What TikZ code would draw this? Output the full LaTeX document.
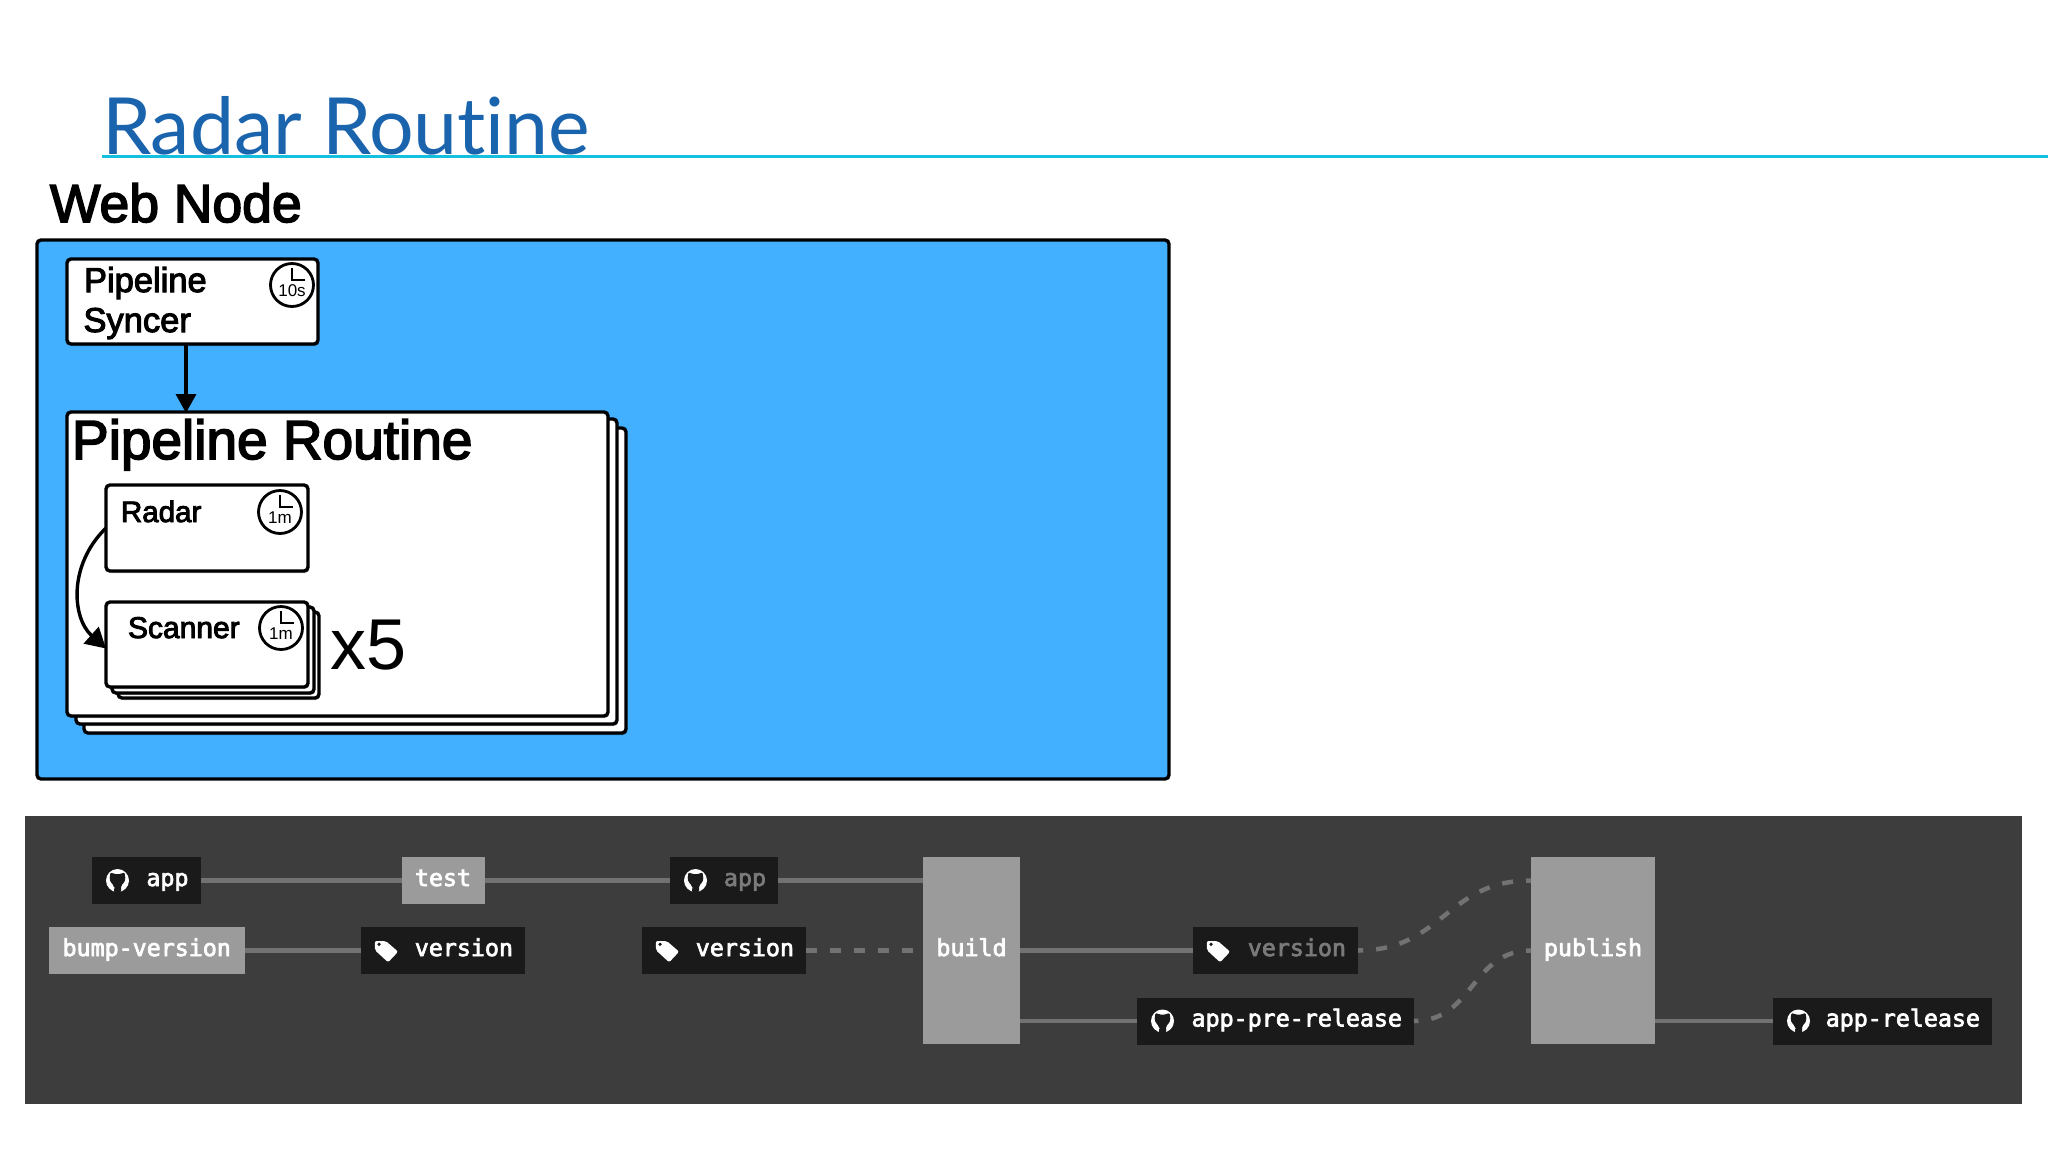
\documentclass[tikz,border=0pt]{standalone}
\usepackage{fontspec}
\usetikzlibrary{arrows.meta,shadows}
\setmainfont{Liberation Sans}
\newfontfamily\titlefont[Ligatures=NoCommon]{Lato}
\newfontfamily\medfont[FakeBold=3]{Liberation Sans}
\newfontfamily\codefont[FakeBold=3]{DejaVu Sans Mono}
\definecolor{webblue}{HTML}{42AFFF}
\definecolor{titleblue}{HTML}{1A64AE}
\definecolor{rulecyan}{HTML}{14C0E0}
\definecolor{panel}{HTML}{3E3D3E}
\definecolor{darkbox}{HTML}{1A1A1A}
\definecolor{jobgrey}{HTML}{9B9B9B}
\definecolor{linkgrey}{HTML}{727272}
\definecolor{dimtext}{HTML}{7A7A7A}
\tikzset{
  x=1pt,y=-1pt,
  sheet/.style={draw=black,fill=white,line width=3.4pt,rounded corners=4pt,anchor=north west,inner sep=0pt,outer sep=0pt,
    drop shadow={shadow xshift=1pt,shadow yshift=-2pt,opacity=.3,fill=black}},
  lbl/.style={anchor=base west,inner sep=0pt,outer sep=0pt},
  cbox/.style={inner sep=0pt,outer sep=0pt,minimum height=47pt,text=white,font=\codefont\fontsize{23.3}{26}\selectfont,text height=17pt,text depth=6pt},
  ref/.style={cbox,fill=darkbox,minimum width=#1,text width={#1-24pt},align=right},
  job/.style={cbox,fill=jobgrey,minimum width=#1,align=center},
  link/.style={draw=linkgrey,line width=4.5pt},
  dlink/.style={link,dash pattern=on 11pt off 13pt},
  pics/clock/.style={code={
    \node[circle,draw=black,fill=white,line width=2.8pt,minimum size=43pt,inner sep=0pt,outer sep=0pt] (-face) at (0,0) {};
    \draw[line width=2.8pt] (0,-17) -- (0,-5) -- (13,-5);
    \node[anchor=base,inner sep=0pt,font=\fontsize{17}{18}\selectfont] (-time) at (0,11) {#1};
  }},
  pics/ghmark/.style={code={
    \fill[white] (0,0) circle[radius=11.5pt];
    \fill[darkbox,rounded corners=1.5pt] (-7,-8.5) -- (-3.5,-6.5) -- (3.5,-6.5) -- (7,-8.5) -- (8,-1) -- (5.5,3.5) -- (3.5,5) -- (3.5,12) -- (-3.5,12) -- (-3.5,5) -- (-5.5,3.5) -- (-8,-1) -- cycle;
    \draw[white,line width=1.2pt] (-8.5,4.5) .. controls (-6,7) and (-5,7.5) .. (-3,7.5);
  }},
  pics/tagmark/.style={code={
    \fill[white,rounded corners=2pt] (-11.7,-9.5) -- (-0.7,-9.5) -- (11.6,1.2) -- (1.6,11.8) -- (-11.7,-0.5) -- cycle;
    \fill[darkbox] (-7.4,-6.2) circle[radius=1.8pt];
  }}
}
\begin{document}
\begin{tikzpicture}
\useasboundingbox[fill=white] (0,0) rectangle (2048,1152);
% heading
\node[lbl,text=titleblue,font=\titlefont\fontsize{78.8}{90}\selectfont] (title) at (102,154) {Radar Routine};
\coordinate (ruleL) at (102,156.5);
\coordinate (ruleR) at (2048,156.5);
\draw[rulecyan,line width=3.5pt] (ruleL) -- (ruleR);
\node[lbl,font=\medfont\fontsize{53.5}{60}\selectfont] (webtitle) at (50,222) {Web Node};
% web node
\node[draw=black,fill=webblue,line width=3.4pt,rounded corners=4pt,anchor=north west,inner sep=0pt,outer sep=0pt,minimum width=1132pt,minimum height=539pt] (web) at (37,240) {};
% syncer
\node[sheet,minimum width=251pt,minimum height=85pt] (syncer) at (67,259) {};
\node[lbl,font=\medfont\fontsize{34.5}{40}\selectfont] (syncerA) at (84,292) {Pipeline};
\node[lbl,font=\medfont\fontsize{34.5}{40}\selectfont] (syncerB) at (83.5,332) {Syncer};
\pic (c1) at (292,285) {clock=10s};
% routine stack
\node[sheet,minimum width=542pt,minimum height=305pt] (routineC) at (84,428) {};
\node[sheet,minimum width=541pt,minimum height=305pt] (routineB) at (76,419) {};
\node[sheet,minimum width=541pt,minimum height=304pt] (routine) at (67,412) {};
\node[lbl,font=\medfont\fontsize{55}{60}\selectfont] (routinetitle) at (72,459) {Pipeline Routine};
% radar
\node[sheet,minimum width=202pt,minimum height=86pt] (radar) at (106,485) {};
\node[lbl,font=\medfont\fontsize{29.5}{34}\selectfont] (radarlbl) at (121,522) {Radar};
\pic (c2) at (280,512) {clock=1m};
% scanner stack
\node[sheet,minimum width=201pt,minimum height=86pt] (scannerC) at (118,612) {};
\node[sheet,minimum width=202pt,minimum height=86pt] (scannerB) at (112,607) {};
\node[sheet,minimum width=202pt,minimum height=85pt] (scanner) at (106,602) {};
\node[lbl,font=\medfont\fontsize{30}{34}\selectfont] (scannerlbl) at (128,638) {Scanner};
\pic (c3) at (281,628) {clock=1m};
\node[lbl,font=\fontsize{72}{80}\selectfont] (times) at (330,669) {x5};
% connectors
\draw[line width=3.4pt,-{Triangle[width=20pt,length=19pt]},shorten >=-1pt] (syncer.south -| routinetitle.west) ++(114,0) coordinate (sy) -- (sy |- routine.north);
\draw[line width=3.4pt,-{Triangle[width=22pt,length=20pt]}] (radar.west) .. controls (68,565) and (72,618) .. ([yshift=-4pt]scanner.west);
% pipeline panel
\node[fill=panel,inner sep=0pt,outer sep=0pt,anchor=north west,minimum width=1997pt,minimum height=288pt] (panelbg) at (25,816) {};
\node[ref=108.5pt] (app1) at (146.25,880.5) {app};
\node[job=83pt] (test) at (443,880.5) {test};
\node[ref=108pt] (app2) at (724,880.5) {\textcolor{dimtext}{app}};
\node[job=195.5pt] (bump) at (146.75,950.5) {bump-version};
\node[ref=164pt] (ver1) at (443,950.5) {version};
\node[ref=164pt] (ver2) at (724,950.5) {version};
\node[job=97pt,minimum height=187pt] (build) at (971.5,950.5) {build};
\node[ref=165pt] (ver3) at (1275.5,950.5) {\textcolor{dimtext}{version}};
\node[ref=277pt] (pre) at (1275.5,1021) {app-pre-release};
\node[job=124pt,minimum height=187pt] (publish) at (1593,950.5) {publish};
\node[ref=219pt] (rel) at (1882.5,1021) {app-release};
\pic at ([xshift=25.5pt]app1.west) {ghmark};
\pic at ([xshift=25.5pt]app2.west) {ghmark};
\pic at ([xshift=25.5pt]ver1.west) {tagmark};
\pic at ([xshift=25.5pt]ver2.west) {tagmark};
\pic at ([xshift=25.5pt]ver3.west) {tagmark};
\pic at ([xshift=25.5pt]pre.west) {ghmark};
\pic at ([xshift=25.5pt]rel.west) {ghmark};
\draw[link] (app1.east) -- (test.west);
\draw[link] (test.east) -- (app2.west);
\draw[link] (app2.east) -- (app2.east -| build.west);
\draw[link] (bump.east) -- (ver1.west);
\draw[dlink] (ver2.east) -- (build.west);
\draw[link] (build.east) -- (ver3.west);
\draw[link] (pre.west -| build.east) -- (pre.west);
\draw[link] (rel.west -| publish.east) -- (rel.west);
\draw[dlink,dash phase=6pt] (publish.west |- app2.east) .. controls +(-85,0) and +(85,0) .. (ver3.east);
\draw[dlink,dash phase=6pt] (publish.west) .. controls +(-60,0) and +(60,0) .. (pre.east);
\end{tikzpicture}
\end{document}
